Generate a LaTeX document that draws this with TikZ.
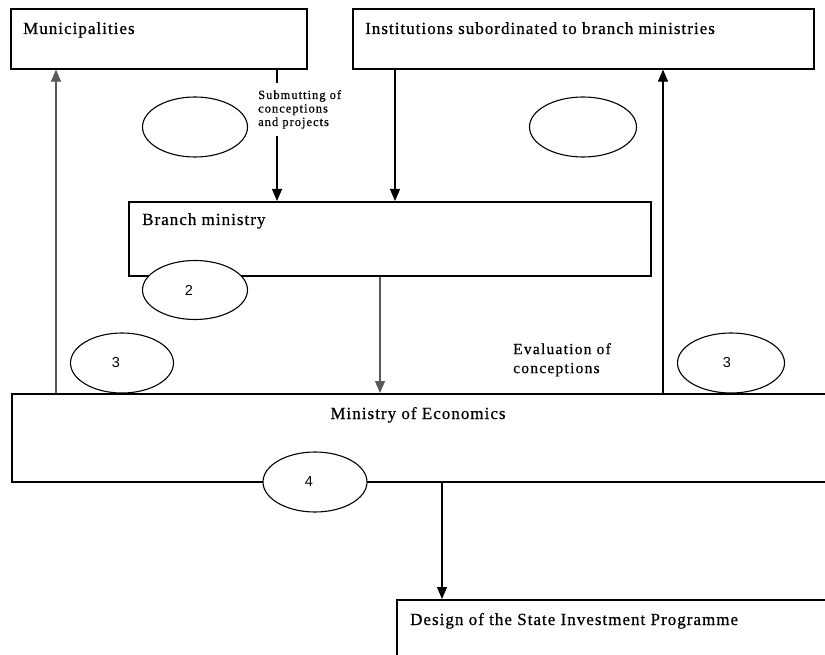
\documentclass[tikz,border=0pt]{standalone}
\usepackage{fontspec}
\setmainfont{Liberation Serif}
\newfontfamily\boxfont[LetterSpace=6,FakeBold=0.6]{Liberation Serif}
\newfontfamily\notefont[LetterSpace=8,FakeBold=0.6]{Liberation Serif}
\newfontfamily\numfont{Liberation Sans}
\usetikzlibrary{shapes.geometric,arrows.meta,calc}

\begin{document}
\begin{tikzpicture}[x=1pt,y=-1pt,
  box/.style={draw=black, line width=1.6pt, fill=white, rectangle,
    inner sep=0pt, anchor=north west},
  boxtext/.style={anchor=base west, inner sep=0pt,
    font=\boxfont\fontsize{17}{19}\selectfont},
  oval/.style={draw=black, line width=1.1pt, fill=white, ellipse,
    inner sep=0pt, minimum width=105pt, minimum height=60pt},
  num/.style={inner sep=0pt, font=\numfont\fontsize{14.5}{16}\selectfont},
  flow/.style={draw=black, line width=1.1pt,
    -{Triangle[width=10pt,length=12pt]}},
  softflow/.style={flow, draw=black!65},
  note/.style={inner sep=0pt, align=left, anchor=north west}
]
\useasboundingbox (0,0) rectangle (825,655);
\clip (0,0) rectangle (825,655);

% boxes
\node[box, minimum width=296pt, minimum height=60pt] (mun) at (10,8) {};
\node[box, minimum width=461pt, minimum height=60pt] (inst) at (352,8) {};
\node[box, minimum width=522pt, minimum height=74pt] (branch) at (128,201) {};
\node[box, minimum width=830pt, minimum height=88pt] (meco) at (11,393) {};
\node[box, minimum width=440pt, minimum height=100pt] (design) at (396,599) {};

% box captions
\node[boxtext] (munT) at ($(mun.north west)+(13,26)$) {Municipalities};
\node[boxtext] (instT) at ($(inst.north west)+(13,26)$) {Institutions subordinated to branch ministries};
\node[boxtext] (branchT) at ($(branch.north west)+(14,24)$) {Branch ministry};
\node[boxtext, anchor=base] (mecoT) at (418,419) {Ministry of Economics};
\node[boxtext] (designT) at ($(design.north west)+(14,26)$) {Design of the State Investment Programme};

% x positions of the vertical connectors
\coordinate (xa) at (56,0);
\coordinate (xb) at (277,0);
\coordinate (xc) at (395,0);
\coordinate (xd) at (663,0);
\coordinate (xe) at (380,0);
\coordinate (xf) at (442,0);

% connectors
\draw[softflow] (xa |- meco.north) -- (xa |- mun.south);
\draw[flow] (xb |- mun.south) -- (xb |- branch.north);
\draw[flow] (xc |- inst.south) -- (xc |- branch.north);
\draw[flow] (xd |- meco.north) -- (xd |- inst.south);
\draw[softflow] (xe |- branch.south) -- (xe |- meco.north);
\draw[flow] (xf |- meco.south) -- (xf |- design.north);

% connector labels
\node[note, fill=white, inner ysep=7pt, font=\notefont\fontsize{12.5}{13.5}\selectfont]
  (submit) at (258,83) {Submutting of\\conceptions\\and projects};
\node[note, font=\notefont\fontsize{15.5}{19}\selectfont]
  (evalT) at (513,343) {Evaluation of\\conceptions};

% numbered ovals
\node[oval] (o1) at (195,127) {};
\node[oval, minimum width=107pt] (o2) at (583,127) {};
\node[oval, minimum height=59pt] (o3) at (195,290) {};
\node[num] at ($(o3.center)+(-6,0)$) {2};
\node[oval, minimum width=103pt] (o4) at (122,363) {};
\node[num] at ($(o4.center)+(-6,0)$) {3};
\node[oval, minimum width=107pt] (o5) at (731,363) {};
\node[num] at ($(o5.center)+(-4,0)$) {3};
\node[oval, minimum width=104pt] (o6) at (315,482) {};
\node[num] at ($(o6.center)+(-6,0)$) {4};
\end{tikzpicture}
\end{document}
